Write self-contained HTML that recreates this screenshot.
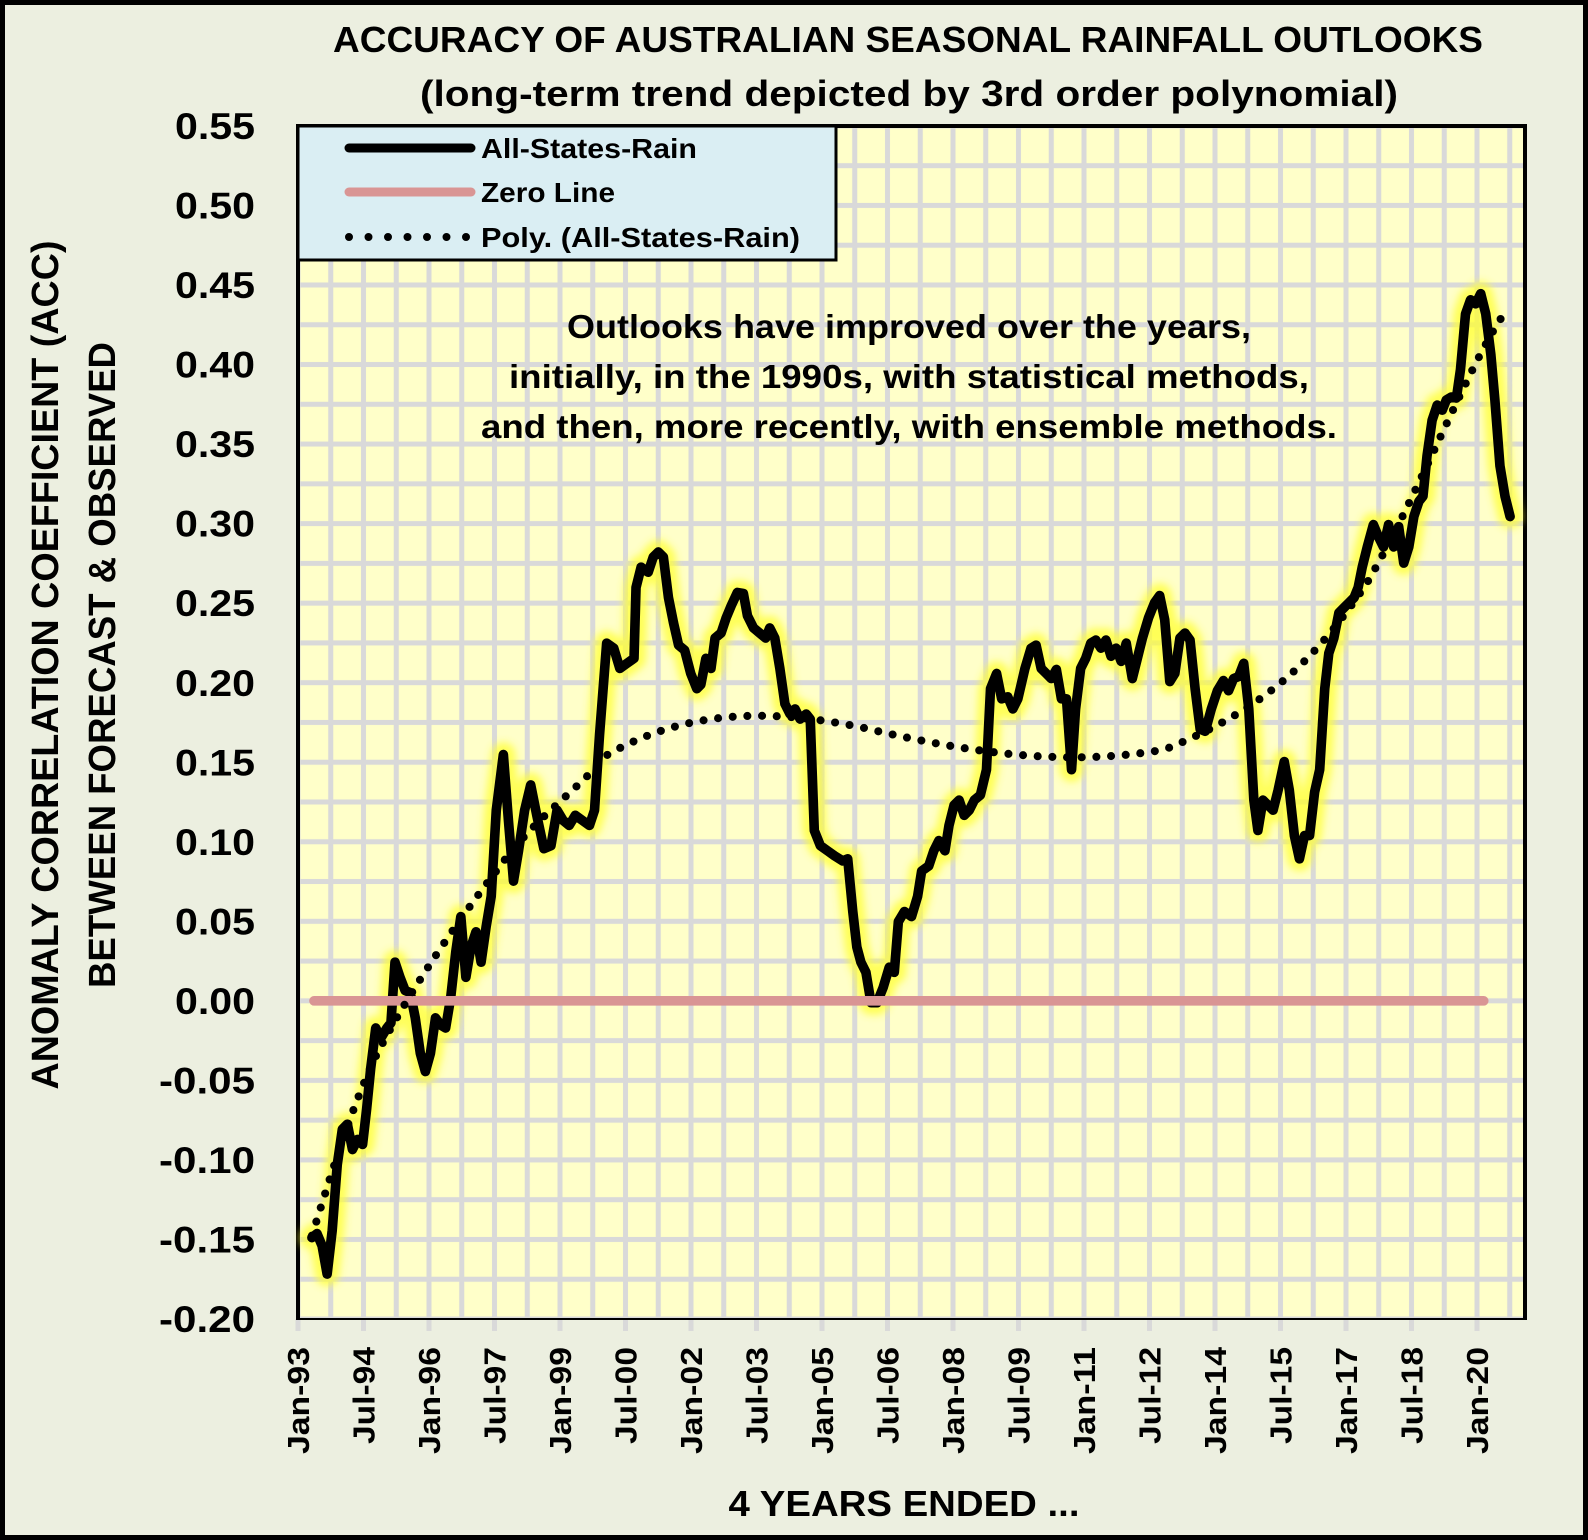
<!DOCTYPE html>
<html><head><meta charset="utf-8"><style>
html,body{margin:0;padding:0;background:#ecefe0;}
svg{display:block;}
text{font-family:"Liberation Sans",sans-serif;font-weight:bold;fill:#000;}
</style></head><body>
<svg width="1588" height="1540" viewBox="0 0 1588 1540" xmlns="http://www.w3.org/2000/svg">
<defs>
<filter id="blur" x="-10%" y="-10%" width="120%" height="120%"><feGaussianBlur stdDeviation="4"/></filter>
<pattern id="grid" patternUnits="userSpaceOnUse" x="298" y="1319" width="32.75" height="39.77">
<rect x="0" y="0" width="32.75" height="39.77" fill="#ffffc9"/>
<rect x="0" y="0" width="2.5" height="39.77" fill="#d9d9d9"/>
<rect x="30.25" y="0" width="2.5" height="39.77" fill="#d9d9d9"/>
<rect x="0" y="0" width="32.75" height="2.5" fill="#d9d9d9"/>
<rect x="0" y="37.27" width="32.75" height="2.5" fill="#d9d9d9"/>
</pattern>
</defs>
<rect x="0" y="0" width="1588" height="1540" fill="#ecefe0"/>
<rect x="2.5" y="2.5" width="1583" height="1535" fill="none" stroke="#000" stroke-width="5"/>
<rect x="298" y="126" width="1227" height="1193" fill="url(#grid)"/>
<g stroke="#d9d9d9" stroke-width="5">
<line x1="298" y1="1319" x2="298" y2="1331"/><line x1="363.5" y1="1319" x2="363.5" y2="1331"/><line x1="429" y1="1319" x2="429" y2="1331"/><line x1="494.5" y1="1319" x2="494.5" y2="1331"/><line x1="560" y1="1319" x2="560" y2="1331"/><line x1="625.5" y1="1319" x2="625.5" y2="1331"/><line x1="691" y1="1319" x2="691" y2="1331"/><line x1="756.5" y1="1319" x2="756.5" y2="1331"/><line x1="822" y1="1319" x2="822" y2="1331"/><line x1="887.5" y1="1319" x2="887.5" y2="1331"/><line x1="953" y1="1319" x2="953" y2="1331"/><line x1="1018.5" y1="1319" x2="1018.5" y2="1331"/><line x1="1084" y1="1319" x2="1084" y2="1331"/><line x1="1149.5" y1="1319" x2="1149.5" y2="1331"/><line x1="1215" y1="1319" x2="1215" y2="1331"/><line x1="1280.5" y1="1319" x2="1280.5" y2="1331"/><line x1="1346" y1="1319" x2="1346" y2="1331"/><line x1="1411.5" y1="1319" x2="1411.5" y2="1331"/><line x1="1477" y1="1319" x2="1477" y2="1331"/>
</g>
<line x1="298" y1="1319" x2="1525" y2="1319" stroke="#000" stroke-width="2"/>
<line x1="298" y1="124" x2="298" y2="1320" stroke="#000" stroke-width="4"/>
<line x1="296" y1="126" x2="1527" y2="126" stroke="#000" stroke-width="4"/>
<line x1="1525" y1="124" x2="1525" y2="1320" stroke="#000" stroke-width="4"/>

<g transform="scale(1.0128)">
<path id="d" fill="none" stroke-linejoin="round" stroke-linecap="round" d="M308,1222 L313,1218 318,1230 323,1258 328,1215 333,1150 338,1115 343,1110 348,1135 353,1125 358,1130 362,1095 366,1055 371,1015 376,1025 382,1015 386,1010 390,950 395,965 400,978 405,980 410,1005 415,1040 420,1058 425,1040 430,1005 435,1012 440,1015 445,985 450,940 455,905 460,965 465,935 470,920 475,950 480,915 485,885 490,800 497,745 502,810 507,870 512,840 518,800 524,775 530,805 537,838 544,835 550,800 556,810 562,815 568,805 575,810 582,815 587,800 592,725 599,635 606,640 612,660 619,655 626,650 628,580 633,560 640,565 645,550 650,545 655,550 660,590 665,615 670,637 676,642 682,665 688,680 692,676 697,650 702,660 706,630 712,625 717,610 722,598 728,585 734,586 738,608 744,620 750,625 756,630 760,620 765,630 770,660 775,695 780,705 785,700 790,710 796,705 800,710 804,820 810,835 817,840 824,845 832,850 837,848 842,900 846,935 850,950 855,960 860,990 866,990 872,975 878,955 883,960 887,910 893,900 900,905 906,885 910,860 917,855 922,840 927,830 933,840 937,815 942,795 947,790 952,805 957,800 962,790 968,785 974,760 978,680 984,665 989,690 995,688 1000,700 1005,690 1012,660 1018,640 1023,637 1028,660 1033,665 1038,670 1043,661 1048,690 1053,690 1058,760 1062,700 1067,660 1072,650 1077,635 1082,632 1087,640 1092,632 1097,648 1102,640 1107,653 1112,635 1118,670 1123,650 1128,630 1134,610 1140,595 1145,588 1150,612 1155,673 1160,665 1165,630 1170,625 1175,632 1180,680 1185,720 1190,722 1196,700 1202,682 1208,672 1213,682 1218,670 1223,668 1228,655 1233,700 1238,790 1242,820 1247,790 1252,795 1257,800 1262,780 1268,752 1273,780 1278,825 1283,848 1288,825 1293,825 1298,782 1303,760 1308,680 1312,645 1317,630 1322,605 1327,600 1332,595 1337,590 1341,580 1345,560 1350,540 1356,518 1361,530 1366,540 1371,518 1376,540 1381,520 1386,556 1391,540 1396,510 1401,495 1405,490 1409,450 1414,415 1419,400 1424,405 1428,395 1433,392 1438,393 1442,365 1447,310 1452,296 1457,300 1462,290 1467,310 1472,350 1476,395 1481,460 1486,490 1491,510"/>
<use href="#d" stroke="#ffff30" stroke-width="24" opacity="0.75" filter="url(#blur)"/>
<use href="#d" stroke="#000" stroke-width="9.5"/>
<line x1="310" y1="988.2" x2="1465" y2="988.2" stroke="#d99594" stroke-width="9.5" stroke-linecap="round"/>
<path fill="none" stroke="#000" stroke-width="8" stroke-linecap="round" stroke-dasharray="0 14.5" d="M308,1220 C330,1150 345,1100 370,1045 C395,995 440,925 490,860 C530,805 560,790 600,745 C680,700 760,700 850,718 C950,742 1050,758 1150,740 C1250,700 1300,650 1350,575 C1400,490 1450,360 1485,310"/>
</g>

<rect x="298" y="126" width="538" height="134" fill="#daeef3" stroke="#000" stroke-width="3"/>
<line x1="349" y1="148" x2="471" y2="148" stroke="#000" stroke-width="9" stroke-linecap="round"/>
<line x1="349" y1="192" x2="471" y2="192" stroke="#d99594" stroke-width="9" stroke-linecap="round"/>
<line x1="349" y1="237" x2="471" y2="237" stroke="#000" stroke-width="8" stroke-linecap="round" stroke-dasharray="0 19.5"/>
<text x="481" y="158" font-size="28" textLength="216" lengthAdjust="spacingAndGlyphs">All-States-Rain</text>
<text x="481" y="202" font-size="28" textLength="134" lengthAdjust="spacingAndGlyphs">Zero Line</text>
<text x="481" y="247" font-size="28" textLength="319" lengthAdjust="spacingAndGlyphs">Poly. (All-States-Rain)</text>

<text x="908" y="52" font-size="36" text-anchor="middle" textLength="1150" lengthAdjust="spacingAndGlyphs">ACCURACY OF AUSTRALIAN SEASONAL RAINFALL OUTLOOKS</text>
<text x="909" y="106" font-size="36" text-anchor="middle" textLength="978" lengthAdjust="spacingAndGlyphs">(long-term trend depicted by 3rd order polynomial)</text>
<text x="909" y="338" font-size="33" text-anchor="middle" textLength="684" lengthAdjust="spacingAndGlyphs">Outlooks have improved over the years,</text>
<text x="909" y="388" font-size="33" text-anchor="middle" textLength="800" lengthAdjust="spacingAndGlyphs">initially, in the 1990s,  with statistical methods,</text>
<text x="909" y="438" font-size="33" text-anchor="middle" textLength="856" lengthAdjust="spacingAndGlyphs">and then, more recently, with ensemble methods.</text>
<text x="904" y="1516" font-size="36" text-anchor="middle" textLength="351" lengthAdjust="spacingAndGlyphs">4 YEARS ENDED  ...</text>
<text transform="translate(58,665) rotate(-90)" font-size="38" text-anchor="middle" textLength="849" lengthAdjust="spacingAndGlyphs">ANOMALY CORRELATION COEFFICIENT (ACC)</text>
<text transform="translate(115,665) rotate(-90)" font-size="38" text-anchor="middle" textLength="646" lengthAdjust="spacingAndGlyphs">BETWEEN FORECAST &amp; OBSERVED</text>

<g font-size="37" text-anchor="end" lengthAdjust="spacingAndGlyphs">
<text x="255" y="1332" textLength="96" lengthAdjust="spacingAndGlyphs">-0.20</text>
<text x="255" y="1252.5" textLength="96" lengthAdjust="spacingAndGlyphs">-0.15</text>
<text x="255" y="1172.9" textLength="96" lengthAdjust="spacingAndGlyphs">-0.10</text>
<text x="255" y="1093.4" textLength="96" lengthAdjust="spacingAndGlyphs">-0.05</text>
<text x="255" y="1013.9" textLength="80" lengthAdjust="spacingAndGlyphs">0.00</text>
<text x="255" y="934.4" textLength="80" lengthAdjust="spacingAndGlyphs">0.05</text>
<text x="255" y="854.8" textLength="80" lengthAdjust="spacingAndGlyphs">0.10</text>
<text x="255" y="775.3" textLength="80" lengthAdjust="spacingAndGlyphs">0.15</text>
<text x="255" y="695.8" textLength="80" lengthAdjust="spacingAndGlyphs">0.20</text>
<text x="255" y="616.2" textLength="80" lengthAdjust="spacingAndGlyphs">0.25</text>
<text x="255" y="536.7" textLength="80" lengthAdjust="spacingAndGlyphs">0.30</text>
<text x="255" y="457.2" textLength="80" lengthAdjust="spacingAndGlyphs">0.35</text>
<text x="255" y="377.6" textLength="80" lengthAdjust="spacingAndGlyphs">0.40</text>
<text x="255" y="298.1" textLength="80" lengthAdjust="spacingAndGlyphs">0.45</text>
<text x="255" y="218.6" textLength="80" lengthAdjust="spacingAndGlyphs">0.50</text>
<text x="255" y="139.1" textLength="80" lengthAdjust="spacingAndGlyphs">0.55</text>
</g>
<g font-size="31" text-anchor="end">
<text transform="translate(309,1347) rotate(-90)" textLength="107" lengthAdjust="spacingAndGlyphs">Jan-93</text>
<text transform="translate(374.5,1347) rotate(-90)" textLength="97" lengthAdjust="spacingAndGlyphs">Jul-94</text>
<text transform="translate(440,1347) rotate(-90)" textLength="107" lengthAdjust="spacingAndGlyphs">Jan-96</text>
<text transform="translate(505.5,1347) rotate(-90)" textLength="97" lengthAdjust="spacingAndGlyphs">Jul-97</text>
<text transform="translate(571,1347) rotate(-90)" textLength="107" lengthAdjust="spacingAndGlyphs">Jan-99</text>
<text transform="translate(636.5,1347) rotate(-90)" textLength="97" lengthAdjust="spacingAndGlyphs">Jul-00</text>
<text transform="translate(702,1347) rotate(-90)" textLength="107" lengthAdjust="spacingAndGlyphs">Jan-02</text>
<text transform="translate(767.5,1347) rotate(-90)" textLength="97" lengthAdjust="spacingAndGlyphs">Jul-03</text>
<text transform="translate(833,1347) rotate(-90)" textLength="107" lengthAdjust="spacingAndGlyphs">Jan-05</text>
<text transform="translate(898.5,1347) rotate(-90)" textLength="97" lengthAdjust="spacingAndGlyphs">Jul-06</text>
<text transform="translate(964,1347) rotate(-90)" textLength="107" lengthAdjust="spacingAndGlyphs">Jan-08</text>
<text transform="translate(1029.5,1347) rotate(-90)" textLength="97" lengthAdjust="spacingAndGlyphs">Jul-09</text>
<text transform="translate(1095,1347) rotate(-90)" textLength="107" lengthAdjust="spacingAndGlyphs">Jan-11</text>
<text transform="translate(1160.5,1347) rotate(-90)" textLength="97" lengthAdjust="spacingAndGlyphs">Jul-12</text>
<text transform="translate(1226,1347) rotate(-90)" textLength="107" lengthAdjust="spacingAndGlyphs">Jan-14</text>
<text transform="translate(1291.5,1347) rotate(-90)" textLength="97" lengthAdjust="spacingAndGlyphs">Jul-15</text>
<text transform="translate(1357,1347) rotate(-90)" textLength="107" lengthAdjust="spacingAndGlyphs">Jan-17</text>
<text transform="translate(1422.5,1347) rotate(-90)" textLength="97" lengthAdjust="spacingAndGlyphs">Jul-18</text>
<text transform="translate(1488,1347) rotate(-90)" textLength="107" lengthAdjust="spacingAndGlyphs">Jan-20</text>
</g>
</svg>
</body></html>
